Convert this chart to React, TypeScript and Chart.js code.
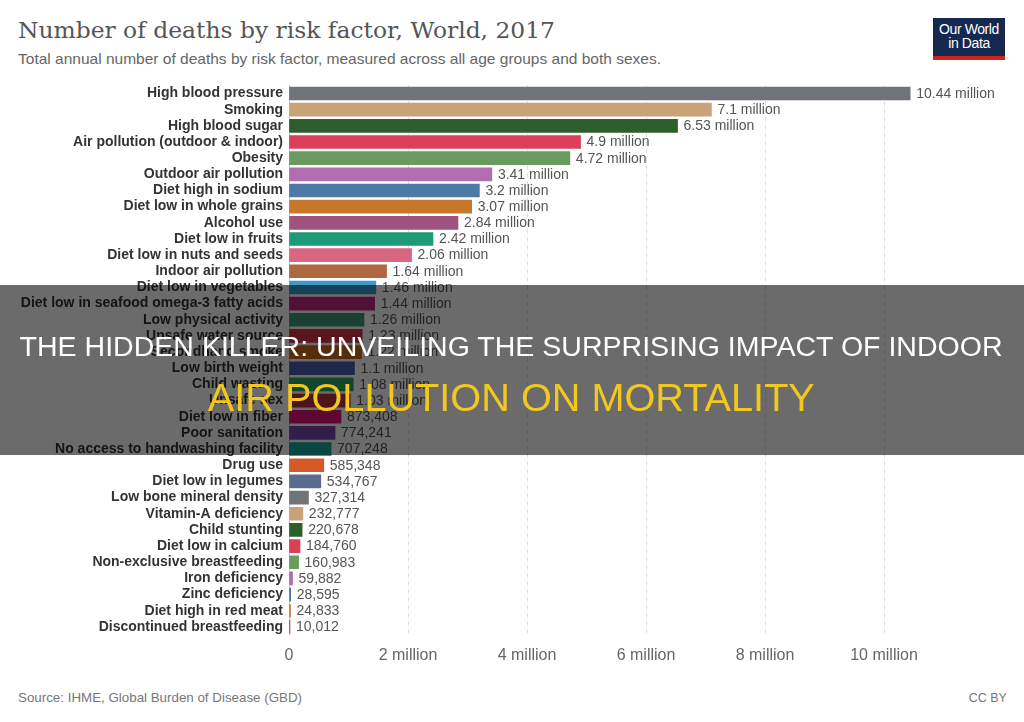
import React, { useEffect, useLayoutEffect, useRef } from "react";
import { Chart, registerables } from "chart.js";

Chart.register(...registerables);

const categories = [
  "High blood pressure",
  "Smoking",
  "High blood sugar",
  "Air pollution (outdoor & indoor)",
  "Obesity",
  "Outdoor air pollution",
  "Diet high in sodium",
  "Diet low in whole grains",
  "Alcohol use",
  "Diet low in fruits",
  "Diet low in nuts and seeds",
  "Indoor air pollution",
  "Diet low in vegetables",
  "Diet low in seafood omega-3 fatty acids",
  "Low physical activity",
  "Unsafe water source",
  "Secondhand smoke",
  "Low birth weight",
  "Child wasting",
  "Unsafe sex",
  "Diet low in fiber",
  "Poor sanitation",
  "No access to handwashing facility",
  "Drug use",
  "Diet low in legumes",
  "Low bone mineral density",
  "Vitamin-A deficiency",
  "Child stunting",
  "Diet low in calcium",
  "Non-exclusive breastfeeding",
  "Iron deficiency",
  "Zinc deficiency",
  "Diet high in red meat",
  "Discontinued breastfeeding",
];

const deaths = [
  10440000, 7100000, 6530000, 4900000, 4720000, 3410000, 3200000, 3070000,
  2840000, 2420000, 2060000, 1640000, 1460000, 1440000, 1260000, 1230000,
  1220000, 1100000, 1080000, 1030000, 873408, 774241, 707248, 585348, 534767,
  327314, 232777, 220678, 184760, 160983, 59882, 28595, 24833, 10012,
];

const barColors = [
  "#707377", "#c9a27a", "#2e5e2e", "#dd3f58", "#6b9a5f", "#b06db0",
  "#4d79a6", "#c7772c", "#a0527f", "#1f9a77", "#d8667f", "#b06840",
  "#3b9ccc", "#c0267e", "#3c9a78", "#d9334a", "#d06a1e", "#4a5fae",
  "#2fa868", "#b8303c", "#e0127a", "#7a48b0", "#18a89c", "#d45a28",
  "#5a6b8e", "#707377", "#c9a27a", "#2e5e2e", "#dd3f58", "#6b9a5f",
  "#b06db0", "#4d79a6", "#c7772c", "#a0527f",
];

const xTickValues = [0, 2000000, 4000000, 6000000, 8000000, 10000000];

const titleText = "Number of deaths by risk factor, World, 2017";
const subtitleText =
  "Total annual number of deaths by risk factor, measured across all age groups and both sexes.";
const sourceText = "Source: IHME, Global Burden of Disease (GBD)";
const licenseText = "CC BY";
const bannerLine1 = "THE HIDDEN KILLER: UNVEILING THE SURPRISING IMPACT OF INDOOR";
const bannerLine2 = "AIR POLLUTION ON MORTALITY";

const SANS = '"Liberation Sans", Arial, sans-serif';

function formatValue(v: number): string {
  if (v >= 1000000) {
    return parseFloat((v / 1000000).toFixed(2)) + " million";
  }
  return v.toLocaleString("en-US");
}

type FitProps = {
  text: string;
  left: number;
  top: number;
  width: number;
  fontSize: number;
  color: string;
  fontFamily: string;
  fontWeight?: number | string;
  align?: "left" | "center" | "right";
};

function FitText({ text, left, top, width, fontSize, color, fontFamily, fontWeight, align = "left" }: FitProps) {
  const ref = useRef<HTMLSpanElement>(null);
  useLayoutEffect(() => {
    const el = ref.current;
    if (!el) return;
    el.style.transform = "none";
    const w = el.getBoundingClientRect().width;
    if (w > 0) el.style.transform = `scaleX(${width / w})`;
  }, [text, width, fontSize]);
  return (
    <div
      style={{
        position: "absolute",
        left,
        top,
        width,
        textAlign: align,
        lineHeight: 1,
        whiteSpace: "nowrap",
      }}
    >
      <span
        ref={ref}
        style={{
          display: "inline-block",
          whiteSpace: "nowrap",
          fontSize,
          color,
          fontFamily,
          fontWeight: fontWeight ?? "normal",
          transformOrigin: align === "left" ? "left center" : align === "right" ? "right center" : "center center",
        }}
      >
        {text}
      </span>
    </div>
  );
}

function BarChart() {
  const canvasRef = useRef<HTMLCanvasElement>(null);
  useEffect(() => {
    const canvas = canvasRef.current;
    if (!canvas) return;
    const valueLabels = {
      id: "valueLabels",
      afterDatasetsDraw(chart: any) {
        const ctx = chart.ctx;
        const meta = chart.getDatasetMeta(0);
        ctx.save();
        ctx.font = `14px ${SANS}`;
        ctx.fillStyle = "#555555";
        ctx.textAlign = "left";
        ctx.textBaseline = "middle";
        meta.data.forEach((el: any, i: number) => {
          ctx.fillText(formatValue(deaths[i]), el.x + 6, el.y + 0.5);
        });
        ctx.restore();
      },
    };
    const chart = new Chart(canvas, {
      type: "bar",
      data: {
        labels: categories,
        datasets: [
          {
            data: deaths,
            backgroundColor: barColors,
            borderWidth: 0,
            barThickness: 13,
            minBarLength: 1,
          },
        ],
      },
      options: {
        indexAxis: "y",
        animation: false,
        responsive: false,
        maintainAspectRatio: false,
        layout: { padding: { left: 0, right: 21, top: 5, bottom: 0 } },
        plugins: {
          legend: { display: false },
          tooltip: { enabled: false },
          title: { display: false },
        },
        scales: {
          x: {
            type: "linear",
            min: 0,
            max: 12000000,
            afterBuildTicks: (scale: any) => {
              scale.ticks = xTickValues.map((v) => ({ value: v }));
            },
            afterFit: (scale: any) => {
              scale.height = 40;
            },
            ticks: {
              padding: 11,
              color: "#666666",
              font: { family: SANS, size: 16 },
              maxRotation: 0,
              callback: (v: any) => (Number(v) === 0 ? "0" : Number(v) / 1000000 + " million"),
            },
            grid: {
              drawTicks: false,
              color: (c: any) => (c.tick && c.tick.value === 0 ? "#cccccc" : "#dddddd"),
              lineWidth: 1,
            },
            border: {
              display: false,
              dash: (c: any) => (c.tick && c.tick.value === 0 ? [] : [4, 4]),
            },
          },
          y: {
            afterFit: (scale: any) => {
              scale.width = 289;
            },
            ticks: {
              autoSkip: false,
              padding: 6,
              color: "#333333",
              font: { family: SANS, size: 14, weight: "bold" },
            },
            grid: { display: false, drawTicks: false },
            border: { display: false },
          },
        },
      },
      plugins: [valueLabels],
    });
    return () => chart.destroy();
  }, []);
  return (
    <canvas
      ref={canvasRef}
      width={1024}
      height={604}
      style={{ position: "absolute", left: 0, top: 71, width: 1024, height: 604 }}
    />
  );
}

export default function App() {
  return (
    <div
      style={{
        position: "absolute",
        left: 0,
        top: 0,
        width: 1024,
        height: 722,
        background: "#ffffff",
        overflow: "hidden",
      }}
    >
      <FitText text={titleText} left={18} top={19} width={537} fontSize={23} color="#555555" fontFamily='"DejaVu Serif", Georgia, serif' />
      <FitText text={subtitleText} left={18} top={51} width={643} fontSize={15} color="#666666" fontFamily={SANS} />
      <div
        style={{
          position: "absolute",
          left: 933,
          top: 18,
          width: 72,
          height: 42,
          background: "#152850",
          borderBottom: "4px solid #ce261e",
          boxSizing: "border-box",
          color: "#ffffff",
          fontFamily: SANS,
          fontSize: 14,
          lineHeight: "14px",
          textAlign: "center",
          paddingTop: 4,
          letterSpacing: -0.4,
        }}
      >
        Our World
        <br />
        in Data
      </div>
      <BarChart />
      <FitText text={sourceText} left={18} top={689} width={284} fontSize={13} color="#777777" fontFamily={SANS} />
      <FitText text={licenseText} left={967} top={689} width={38} fontSize={13} color="#777777" fontFamily={SANS} align="right" />
      <div
        style={{
          position: "absolute",
          left: 0,
          top: 285,
          width: 1024,
          height: 170,
          background: "rgba(0,0,0,0.58)",
        }}
      />
      <FitText text={bannerLine1} left={20} top={334} width={983} fontSize={27} color="#ffffff" fontFamily={SANS} align="center" />
      <FitText text={bannerLine2} left={208} top={378} width={607} fontSize={39} color="#f2c81e" fontFamily={SANS} align="center" />
    </div>
  );
}
